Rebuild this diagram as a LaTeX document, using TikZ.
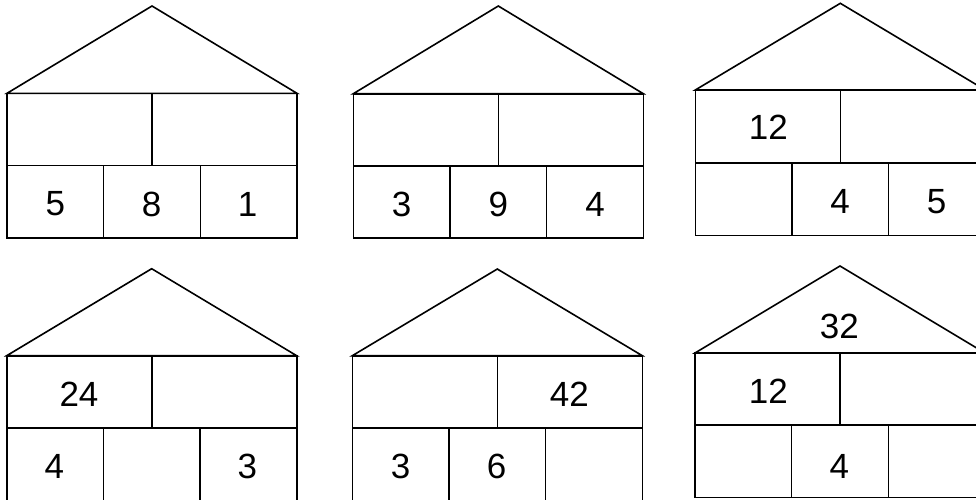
\documentclass[tikz,border=0pt]{standalone}
\usepackage{fontspec}
\setmainfont{Liberation Sans}
\newcommand\myhouse[5]{% L, apex y, roof y, mid y, bottom y
  \draw[houseline] (#1,#3) -- (#1+145,#2) -- (#1+290,#3) -- cycle;
  \draw[houseline] (#1,#3) rectangle (#1+290,#5);
  \draw[houseline] (#1,#4) -- (#1+290,#4);
  \draw[houseline] (#1+145,#3) -- (#1+145,#4);
  \draw[houseline] (#1+96.67,#4) -- (#1+96.67,#5);
  \draw[houseline] (#1+193.33,#4) -- (#1+193.33,#5);
}
\begin{document}
\begin{tikzpicture}[x=1pt,y=-1pt,
  houseline/.style={draw=black,line width=1.6pt},
  num/.style={inner sep=0pt,font=\fontsize{35}{42}\selectfont}]
\useasboundingbox (0,0) rectangle (976,499);
\clip (0,0) rectangle (976,499);
\fill[white] (0,0) rectangle (976,499);
\myhouse{7}{6}{93.3}{165.3}{238}
\myhouse{353.3}{6}{93.7}{165.7}{238}
\myhouse{695.3}{3.3}{90}{162.7}{235.3}
\myhouse{6.7}{268.7}{355.7}{427.7}{501}
\myhouse{352.3}{269}{355.7}{427.7}{501}
\myhouse{695}{266}{353}{424.7}{497.3}
% house 1
\node[num] (a1) at (55.3,204) {5};
\node[num] (a2) at (151.7,204) {8};
\node[num] (a3) at (247.7,204) {1};
% house 2
\node[num] (b1) at (401.7,204) {3};
\node[num] (b2) at (498.3,204) {9};
\node[num] (b3) at (595,204) {4};
% house 3
\node[num] (c1) at (768.3,127.7) {12};
\node[num] (c2) at (840,201.5) {4};
\node[num] (c3) at (936.7,201.5) {5};
% house 4
\node[num] (d1) at (79,394.3) {24};
\node[num] (d2) at (54.3,466.7) {4};
\node[num] (d3) at (247.3,466.7) {3};
% house 5
\node[num] (e1) at (569.3,394.3) {42};
\node[num] (e2) at (400.7,466.7) {3};
\node[num] (e3) at (496.7,466.7) {6};
% house 6
\node[num] (f1) at (839.3,326.7) {32};
\node[num] (f2) at (768.3,391.7) {12};
\node[num] (f3) at (839.3,466) {4};
\end{tikzpicture}
\end{document}
